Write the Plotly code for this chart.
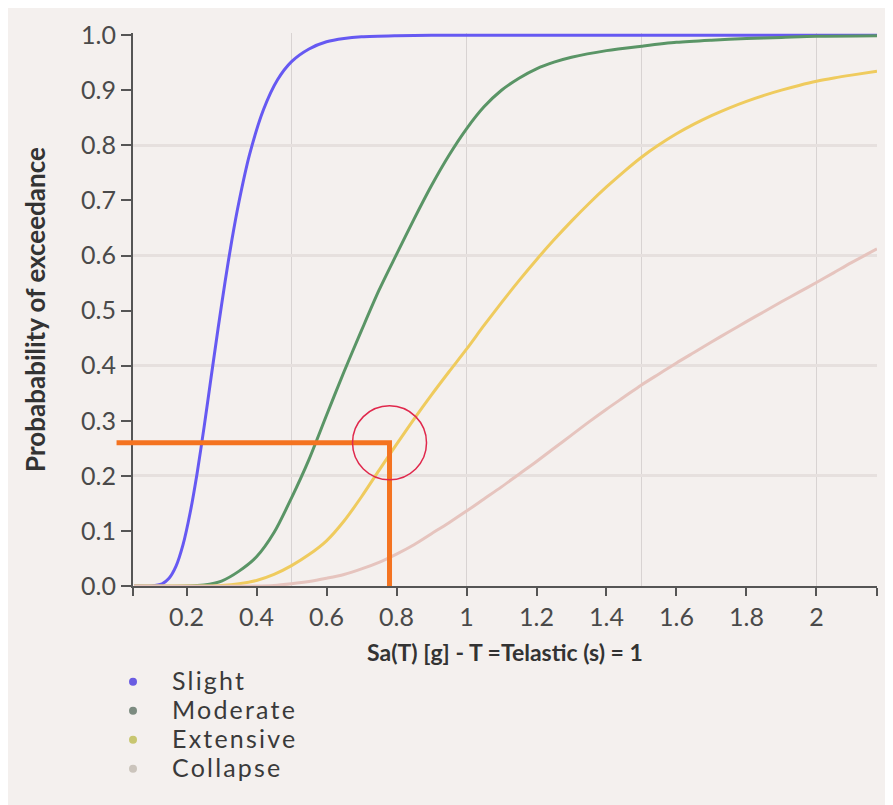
import plotly.graph_objects as go

# ---------------- data ----------------
x_range = [0.047, 2.173]

slight_x = [0.05, 0.10, 0.13, 0.15, 0.17, 0.19, 0.21, 0.23, 0.25, 0.27, 0.29, 0.31, 0.33, 0.35,
            0.38, 0.42, 0.46, 0.50, 0.55, 0.60, 0.65, 0.70, 0.80, 0.90, 1.00, 1.50, 2.00, 2.173]
slight_y = [0.0, 0.0002, 0.004, 0.014, 0.036, 0.075, 0.132, 0.204, 0.288, 0.378, 0.467, 0.552,
            0.630, 0.698, 0.783, 0.865, 0.919, 0.952, 0.975, 0.988, 0.994, 0.997, 0.999, 1.0,
            1.0, 1.0, 1.0, 1.0]

moderate_x = [0.05, 0.20, 0.25, 0.30, 0.35, 0.40, 0.45, 0.50, 0.55, 0.60, 0.65, 0.70, 0.75,
              0.80, 0.85, 0.90, 0.95, 1.00, 1.05, 1.10, 1.15, 1.20, 1.25, 1.30, 1.40, 1.50,
              1.60, 1.70, 1.80, 1.90, 2.00, 2.173]
moderate_y = [0.0, 0.0, 0.002, 0.009, 0.027, 0.053, 0.097, 0.160, 0.230, 0.310, 0.389, 0.464,
              0.537, 0.602, 0.666, 0.727, 0.782, 0.830, 0.870, 0.900, 0.922, 0.939, 0.951, 0.960,
              0.972, 0.980, 0.987, 0.991, 0.994, 0.996, 0.998, 0.999]

extensive_x = [0.05, 0.25, 0.30, 0.35, 0.40, 0.45, 0.50, 0.55, 0.60, 0.65, 0.70, 0.75, 0.80,
               0.85, 0.90, 0.95, 1.00, 1.05, 1.10, 1.15, 1.20, 1.25, 1.30, 1.35, 1.40, 1.45,
               1.50, 1.55, 1.60, 1.65, 1.70, 1.75, 1.80, 1.85, 1.90, 1.95, 2.00, 2.05, 2.10,
               2.173]
extensive_y = [0.0, 0.0, 0.001, 0.004, 0.010, 0.021, 0.037, 0.057, 0.082, 0.118, 0.162, 0.210,
               0.257, 0.303, 0.347, 0.389, 0.430, 0.473, 0.5145, 0.5545, 0.5925, 0.6285, 0.6625,
               0.6945, 0.7245, 0.7525, 0.7785, 0.801, 0.821, 0.8385, 0.854, 0.8678, 0.880,
               0.8908, 0.9003, 0.9088, 0.9163, 0.9223, 0.9275, 0.9344]

collapse_x = [0.05, 0.40, 0.45, 0.50, 0.55, 0.60, 0.65, 0.70, 0.75, 0.80, 0.85, 0.90, 0.95,
              1.00, 1.05, 1.10, 1.15, 1.20, 1.25, 1.30, 1.35, 1.40, 1.45, 1.50, 1.55, 1.60,
              1.65, 1.70, 1.75, 1.80, 1.85, 1.90, 1.95, 2.00, 2.05, 2.10, 2.173]
collapse_y = [0.0, 0.0, 0.001, 0.004, 0.008, 0.014, 0.021, 0.031, 0.043, 0.058, 0.075, 0.095,
              0.115, 0.136, 0.158, 0.180, 0.203, 0.226, 0.250, 0.274, 0.298, 0.321, 0.343,
              0.365, 0.385, 0.405, 0.424, 0.443, 0.4615, 0.480, 0.498, 0.516, 0.5335, 0.551,
              0.569, 0.587, 0.612]

series_names = ["Slight", "Moderate", "Extensive", "Collapse"]

x_tick_vals = [0.2, 0.4, 0.6, 0.8, 1.0, 1.2, 1.4, 1.6, 1.8, 2.0]
x_tick_text = ["0.2", "0.4", "0.6", "0.8", "1", "1.2", "1.4", "1.6", "1.8", "2"]
y_tick_vals = [0.0, 0.1, 0.2, 0.3, 0.4, 0.5, 0.6, 0.7, 0.8, 0.9, 1.0]
y_tick_text = ["0.0", "0.1", "0.2", "0.3", "0.4", "0.5", "0.6", "0.7", "0.8", "0.9", "1.0"]
x_grid_vals = [0.5, 1.0, 1.5, 2.0]
y_grid_vals = [0.2, 0.4, 0.6, 0.8]

highlight_sa = 0.78      # Sa value marked by the orange guide
highlight_p = 0.26
guide_start_sa = 0.0     # the horizontal guide starts at Sa = 0

x_title = "Sa(T) [g] - T =Telastic (s) = 1"
y_title = "Probabability of exceedance"

# ---------------- styles ----------------
line_colors = ["#6659f2", "#5a9566", "#efcb5e", "#e6c4be"]
legend_colors = ["#6a5ce2", "#7c8b80", "#c8c670", "#cbc4bc"]
bg = "#f4f0ee"
axis_col = "#555555"
font_fam = "Lato, 'Open Sans', sans-serif"

fig = go.Figure()
curves = [(slight_x, slight_y), (moderate_x, moderate_y),
          (extensive_x, extensive_y), (collapse_x, collapse_y)]
for (xs, ys), name, col in zip(curves, series_names, line_colors):
    fig.add_trace(go.Scatter(x=xs, y=ys, mode="lines", name=name,
                             line=dict(color=col, width=3, shape="spline", smoothing=0.8),
                             showlegend=False, hoverinfo="x+y+name"))
for name, col in zip(series_names, legend_colors):
    fig.add_trace(go.Scatter(x=[None], y=[None], mode="markers",
                             name=f"<span style='font-size:25px;letter-spacing:2.2px'>{name}</span>",
                             marker=dict(color=col, size=8), showlegend=True))

span = x_range[1] - x_range[0]
def to_paper(v):
    return (v - x_range[0]) / span

# orange guide lines (single path, x in paper coords so it can reach past the y axis)
p0 = to_paper(guide_start_sa)
pc = to_paper(highlight_sa)
fig.add_shape(type="path", xref="paper", yref="y",
              path=f"M {p0},{highlight_p} L {pc},{highlight_p} L {pc},0",
              line=dict(color="#f47320", width=5))
# red circle around the point
fig.add_shape(type="circle", xref="x", yref="y", xsizemode="pixel", ysizemode="pixel",
              xanchor=highlight_sa, yanchor=highlight_p, x0=-37, x1=37, y0=-37, y1=37,
              line=dict(color="#e0284c", width=1.5))

fig.update_layout(
    width=893, height=805,
    margin=dict(l=125, r=24, t=25, b=227),
    paper_bgcolor=bg, plot_bgcolor=bg,
    font=dict(family=font_fam, color="#444444"),
    showlegend=True,
    legend=dict(x=-0.0524, xanchor="left", y=-0.138, yanchor="top",
                orientation="v", itemwidth=68, bgcolor="rgba(0,0,0,0)",
                font=dict(size=20, color="#3a3a3a"), traceorder="normal"),
)
fig.update_xaxes(range=x_range, tickmode="array",
                 tickvals=[x_range[0]] + x_tick_vals + [x_range[1]],
                 ticktext=[""] + x_tick_text + [""],
                 ticks="outside", ticklen=8, tickwidth=1.5, tickcolor=axis_col,
                 showline=True, linecolor=axis_col, linewidth=2,
                 showgrid=False, zeroline=False,
                 tickfont=dict(size=25, color="#4a4a4a"),
                 minor=dict(tickmode="array", tickvals=x_grid_vals, showgrid=True,
                            gridcolor="#d8d3d2", gridwidth=1, ticks=""),
                 title=dict(text="<b>" + x_title + "</b>", font=dict(size=23, color="#333333"),
                            standoff=15))
fig.update_yaxes(range=[0, 1.004], tickmode="array", tickvals=y_tick_vals, ticktext=y_tick_text,
                 ticks="outside", ticklen=10, tickwidth=1.5, tickcolor=axis_col,
                 showline=True, linecolor=axis_col, linewidth=2,
                 showgrid=False, zeroline=False,
                 tickfont=dict(size=25, color="#4a4a4a"),
                 minor=dict(tickmode="array", tickvals=y_grid_vals, showgrid=True,
                            gridcolor="#e6e0de", gridwidth=3, ticks=""),
                 title=dict(text="<b>" + y_title + "</b>", font=dict(size=26, color="#333333"),
                            standoff=28))

fig.write_html("out.html")
